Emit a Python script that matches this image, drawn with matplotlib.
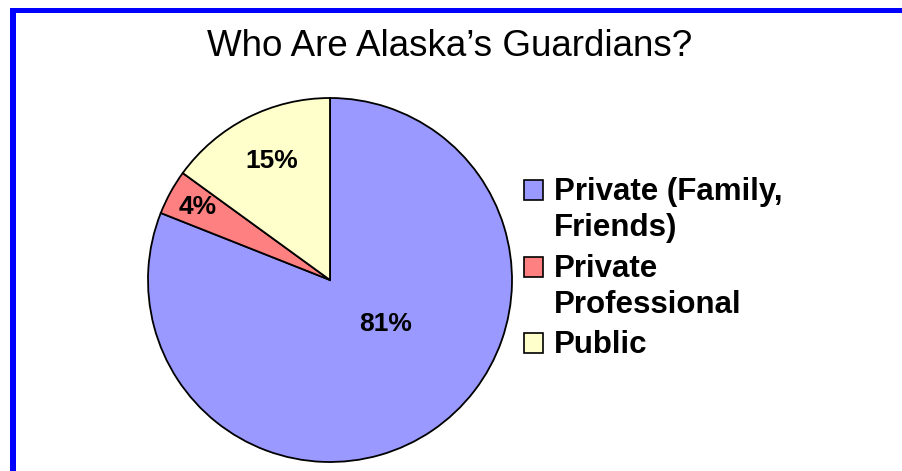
import numpy as np
import matplotlib.pyplot as plt
from matplotlib.patches import Rectangle

# Data
categories = ['Private (Family,\nFriends)', 'Private\nProfessional', 'Public']
shares = [81, 4, 15]
colors = ['#9999FF', '#FF8080', '#FFFFCC']

plt.rcParams['font.family'] = ['Liberation Sans', 'DejaVu Sans']

W, H = 902, 471
fig = plt.figure(figsize=(W / 100, H / 100), dpi=100)
fig.patch.set_facecolor('white')

# blue frame on top and left
fig.patches.append(Rectangle((10 / W, 0), 6 / W, (H - 8) / H, transform=fig.transFigure,
                             facecolor='#0000FF', edgecolor='none'))
fig.patches.append(Rectangle((10 / W, (H - 13) / H), 1 - 10 / W, 5 / H,
                             transform=fig.transFigure, facecolor='#0000FF',
                             edgecolor='none'))

fig.text(450 / W, 1 - 46 / H, 'Who Are Alaska\u2019s Guardians?', fontsize=26.5,
         ha='center', va='center')

# pie axes: centre (330, 280) px, radius 182 px
cx, cy, r = 330, 280, 182
ax = fig.add_axes([(cx - r) / W, (H - cy - r) / H, 2 * r / W, 2 * r / H])
wedges, texts = ax.pie(shares, colors=colors, startangle=90, counterclock=False,
                       wedgeprops=dict(edgecolor='black', linewidth=1.3))
ax.set_xlim(-1, 1)
ax.set_ylim(-1, 1)
ax.set_aspect('equal')
ax.axis('off')

# label placement (radius fraction, angle in degrees)
label_pos = [(0.39, -38), (0.83, 151), (0.73, 116)]
for val, (rad, ang) in zip(shares, label_pos):
    t = np.deg2rad(ang)
    ax.text(rad * np.cos(t), rad * np.sin(t), '%d%%' % val, fontsize=19,
            fontweight='bold', ha='center', va='center')

# legend drawn by hand to match the layout
baselines = [[200, 236], [277, 313], [353]]
for lab, col, base in zip(categories, colors, baselines):
    top = base[0] - 20
    fig.patches.append(Rectangle((524 / W, 1 - (top + 20) / H), 19 / W, 20 / H,
                                 transform=fig.transFigure, facecolor=col,
                                 edgecolor='black', linewidth=1.2))
    for line, yb in zip(lab.split('\n'), base):
        fig.text(554 / W, 1 - yb / H, line, fontsize=22.5, fontweight='bold',
                 ha='left', va='baseline')

fig.savefig('out.png', dpi=100, facecolor='white')
